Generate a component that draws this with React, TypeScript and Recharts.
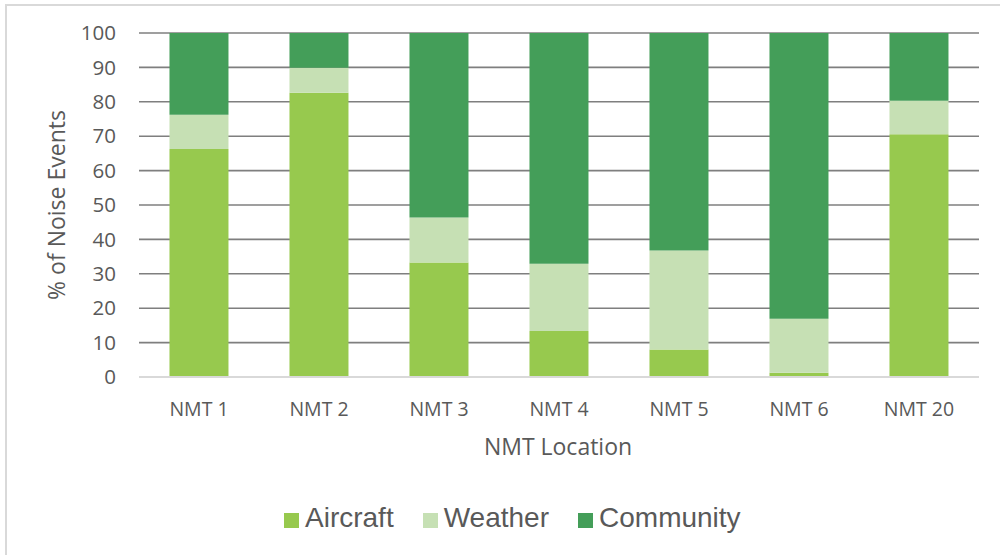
import React from 'react';
import { BarChart, Bar, XAxis, YAxis, CartesianGrid } from 'recharts';

const categories = ['NMT 1', 'NMT 2', 'NMT 3', 'NMT 4', 'NMT 5', 'NMT 6', 'NMT 20'];
const aircraft = [66.3, 82.6, 33.3, 13.4, 8.0, 1.2, 70.6];
const weather = [9.9, 7.3, 13.1, 19.5, 28.8, 15.7, 9.7];
const community = [23.8, 10.1, 53.6, 67.1, 63.2, 83.1, 19.7];
const yTicks = [0, 10, 20, 30, 40, 50, 60, 70, 80, 90, 100];

const seriesNames = ['Aircraft', 'Weather', 'Community'];
const seriesColors = ['#97C94E', '#C6E0B4', '#449E59'];

const data = categories.map((c, i) => ({
  name: c,
  Aircraft: aircraft[i],
  Weather: weather[i],
  Community: community[i],
}));

const textColor = '#595959';
const axisFont = '"Open Sans", sans-serif';

export default function App() {
  return (
    <div style={{ position: 'absolute', left: 0, top: 0, width: 1000, height: 555, background: '#fff' }}>
      <div
        style={{
          position: 'absolute',
          left: 5,
          top: 4,
          width: 995,
          height: 551,
          borderTop: '2px solid #d9d9d9',
          borderLeft: '2px solid #d9d9d9',
          boxSizing: 'border-box',
        }}
      />
      <div style={{ position: 'absolute', left: 0, top: 0 }}>
        <BarChart
          width={1000}
          height={555}
          data={data}
          margin={{ top: 33, right: 21, bottom: 118, left: 0 }}
          barCategoryGap="25.4%"
        >
          <CartesianGrid vertical={false} stroke="#7f7f7f" strokeWidth={1.6} />
          <XAxis
            dataKey="name"
            height={60}
            tickLine={false}
            tickSize={0}
            tickMargin={25}
            axisLine={{ stroke: '#d9d9d9', strokeWidth: 2 }}
            tick={{ fill: textColor, fontSize: 19.5, fontFamily: axisFont }}
            label={{
              content: (props: any) => {
                const vb = props.viewBox;
                return (
                  <text
                    x={vb.x + vb.width / 2 - 1}
                    y={vb.y + 78}
                    textAnchor="middle"
                    fill={textColor}
                    fontSize={23}
                    fontFamily={axisFont}
                  >
                    NMT Location
                  </text>
                );
              },
            }}
          />
          <YAxis
            width={139}
            domain={[0, 100]}
            ticks={yTicks}
            interval={0}
            tickLine={false}
            axisLine={false}
            tickSize={0}
            tickMargin={23}
            tick={{ fill: textColor, fontSize: 20.5, fontFamily: axisFont }}
            label={{
              content: (props: any) => {
                const vb = props.viewBox;
                const x = vb.x + 56;
                const y = vb.y + vb.height / 2;
                return (
                  <text
                    x={x}
                    y={y}
                    transform={`rotate(-90, ${x}, ${y})`}
                    textAnchor="middle"
                    dominantBaseline="central"
                    fill={textColor}
                    fontSize={23}
                    fontFamily={axisFont}
                  >
                    % of Noise Events
                  </text>
                );
              },
            }}
          />
          {seriesNames.map((s, i) => (
            <Bar key={s} dataKey={s} stackId="a" fill={seriesColors[i]} isAnimationActive={false} />
          ))}
        </BarChart>
      </div>
      <div
        style={{
          position: 'absolute',
          left: 284,
          top: 500,
          height: 36,
          display: 'flex',
          alignItems: 'center',
          fontFamily: '"Liberation Sans", Arial, sans-serif',
          fontSize: 28,
          color: textColor,
        }}
      >
        {seriesNames.map((s, i) => (
          <div key={s} style={{ display: 'flex', alignItems: 'center', marginRight: i < seriesNames.length - 1 ? 29 : 0 }}>
            <span style={{ display: 'inline-block', width: 15, height: 15, background: seriesColors[i], marginRight: 6, marginTop: 4 }} />
            <span>{s}</span>
          </div>
        ))}
      </div>
    </div>
  );
}
